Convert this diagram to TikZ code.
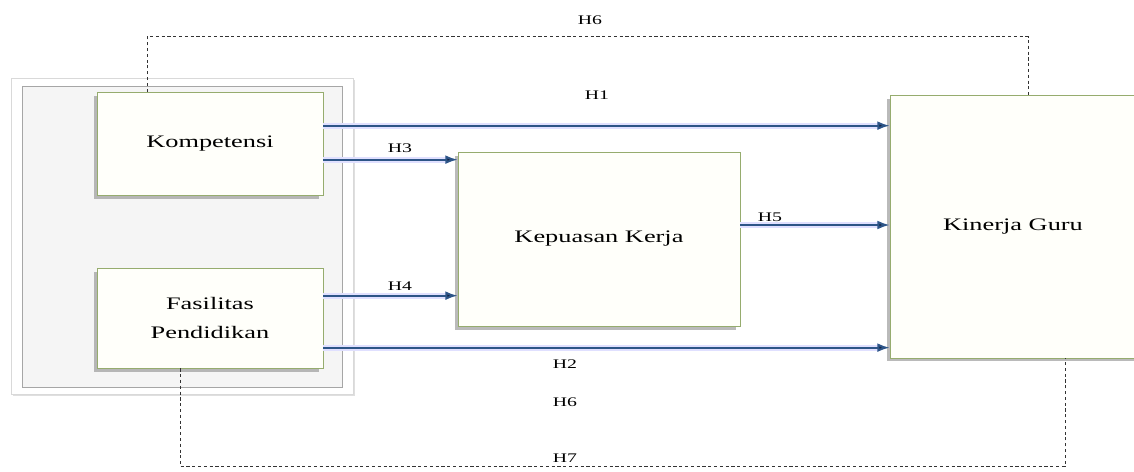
\documentclass[tikz,border=0pt]{standalone}
\usepackage{fontspec}
\setmainfont[FakeStretch=1.5]{Liberation Serif}
\usetikzlibrary{arrows.meta,shadows}
\definecolor{boxline}{RGB}{150,172,110}
\definecolor{boxfill}{RGB}{255,255,250}
\definecolor{arrline}{RGB}{45,85,135}
\definecolor{arrhead}{RGB}{20,35,70}

\begin{document}
\begin{tikzpicture}[x=0.02cm,y=-0.02cm,
        var/.style={
        rectangle, draw=boxline, fill=boxfill,
        inner sep=0pt, align=center,
        font=\fontsize{10}{17}\selectfont,
        drop shadow={shadow xshift=-2pt, shadow yshift=-2pt, fill=black!45, opacity=0.6}},
        arr/.style={
        draw=arrline, line width=1.1pt,
        preaction={draw=blue!12, line width=3.5pt},
        -{Latex[length=7pt,width=5pt,fill=arrhead]}},
        dashln/.style={
        draw=black!80, dashed, dash pattern=on 1.8pt off 1.5pt, line width=0.5pt},
        hlab/.style={
        font=\fontsize{7.5}{9}\selectfont, inner sep=1pt},
        ]

        \useasboundingbox (0,0) rectangle (1134,471);

        \draw[fill=white, draw=black!15, drop shadow={shadow xshift=1pt, shadow yshift=-1pt, fill=black!25}]
              (11,78) rectangle (353,394);
        \draw[fill=black!4, draw=black!35] (22,86) rectangle (342,387);

        \node (komp) [var, minimum width=4.52cm, minimum height=2.06cm] at (210,143.5) {Kompetensi};
        \node (fas)  [var, minimum width=4.52cm, minimum height=2cm] at (210,318) {Fasilitas\\Pendidikan};
        \node (kep)  [var, minimum width=5.64cm, minimum height=3.48cm] at (599,239) {Kepuasan Kerja};
        \node (kin)  [var, minimum width=6.4cm, minimum height=5.26cm] at (1050,226.5) {};
        \node (kinlab) [font=\fontsize{10}{17}\selectfont] at (1013,226.5) {Kinerja Guru};

        \draw[arr] ([yshift=-0.68cm]komp.north east) coordinate (h1) -- (kin.west |- h1);
        \draw[arr] ([yshift=-1.36cm]komp.north east) coordinate (h3) -- (kep.west |- h3);
        \draw[arr] ([yshift=-0.56cm]fas.north east) coordinate (h4) -- (kep.west |- h4);
        \draw[arr] ([yshift=-1.6cm]fas.north east) coordinate (h2) -- (kin.west |- h2);
        \draw[arr] ([yshift=0.28cm]kep.east) coordinate (h5) -- (kin.west |- h5);

        \draw[dashln] ([xshift=-1.26cm]komp.north) -- ++(0,-55) -| ([xshift=0.3cm]kinlab.north |- kin.north);
        \draw[dashln] ([xshift=-0.6cm]fas.south) -- ++(0,98) -| ([xshift=1.04cm]kinlab.south |- kin.south);

        \node (l6a) [hlab] at (590,20) {H6};
        \node (l1)  [hlab] at (597,95) {H1};
        \node (l3)  [hlab] at (400,148) {H3};
        \node (l4)  [hlab] at (400,286) {H4};
        \node (l5)  [hlab] at (770,217) {H5};
        \node (l2)  [hlab] at (565,364) {H2};
        \node (l6b) [hlab] at (565,402) {H6};
        \node (l7)  [hlab] at (565,458) {H7};
    \end{tikzpicture}
\end{document}
